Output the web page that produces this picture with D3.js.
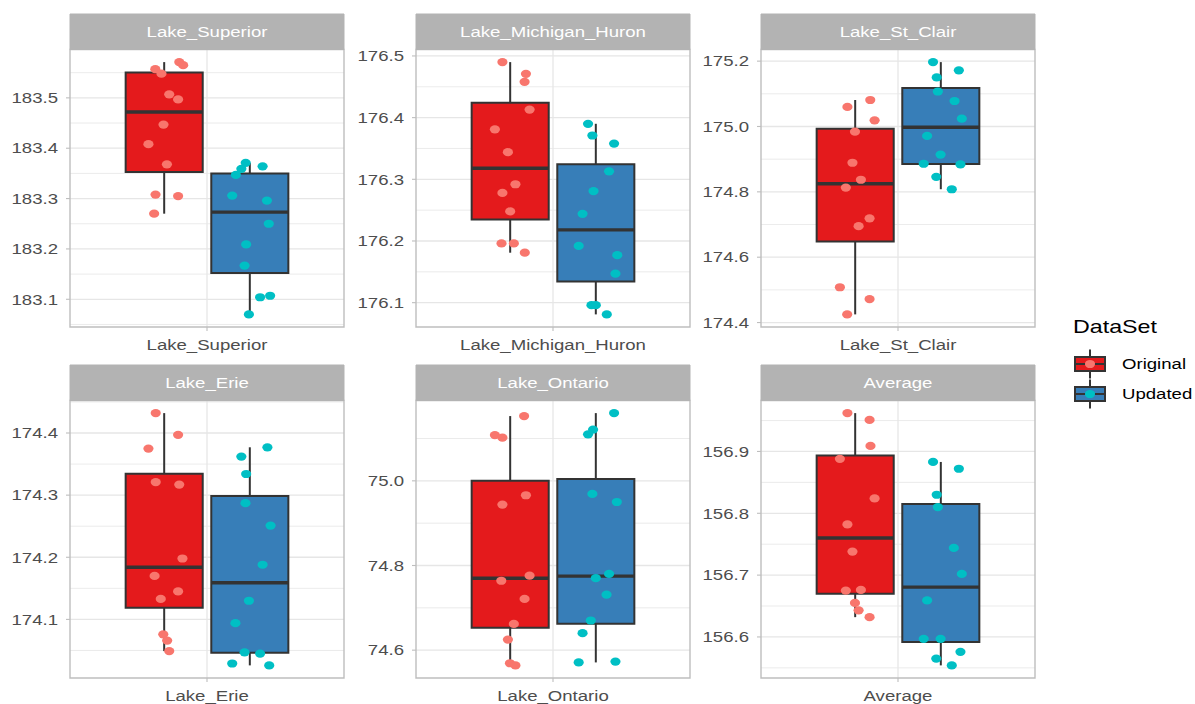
<!DOCTYPE html>
<html>
<head>
<meta charset="utf-8">
<script src="https://cdn.jsdelivr.net/npm/d3@7"></script>
<style>
  html, body { margin: 0; padding: 0; background: #ffffff; }
  svg { display: block; font-family: "Liberation Sans", Arial, Helvetica, sans-serif; }
</style>
</head>
<body>
<svg id="chart"></svg>
<script>
// ---- data -------------------------------------------------------------
const lakes = ["Lake_Superior", "Lake_Michigan_Huron", "Lake_St_Clair", "Lake_Erie", "Lake_Ontario", "Average"];
const dataSets = ["Original", "Updated"];

const superiorOriginal = [183.557, 183.571, 183.565, 183.548, 183.507, 183.497, 183.447, 183.408, 183.368, 183.308, 183.305, 183.270];
const superiorUpdated  = [183.371, 183.359, 183.347, 183.364, 183.306, 183.296, 183.250, 183.209, 183.167, 183.104, 183.107, 183.070];
const michiganOriginal = [176.490, 176.471, 176.458, 176.413, 176.381, 176.344, 176.292, 176.278, 176.248, 176.196, 176.196, 176.181];
const michiganUpdated  = [176.390, 176.371, 176.358, 176.313, 176.281, 176.244, 176.192, 176.177, 176.147, 176.096, 176.096, 176.081];
const stClairOriginal  = [175.060, 175.081, 175.019, 174.984, 174.889, 174.837, 174.813, 174.719, 174.695, 174.508, 174.472, 174.425];
const stClairUpdated   = [175.197, 175.172, 175.150, 175.107, 175.078, 175.024, 174.971, 174.914, 174.886, 174.884, 174.846, 174.808];
const erieOriginal     = [174.432, 174.397, 174.375, 174.321, 174.317, 174.198, 174.170, 174.145, 174.133, 174.076, 174.066, 174.049];
const erieUpdated      = [174.377, 174.362, 174.334, 174.287, 174.251, 174.188, 174.130, 174.094, 174.047, 174.045, 174.029, 174.026];
const ontarioOriginal  = [75.153, 75.108, 75.102, 74.966, 74.944, 74.776, 74.764, 74.721, 74.662, 74.625, 74.569, 74.564];
const ontarioUpdated   = [75.160, 75.121, 75.110, 74.969, 74.950, 74.780, 74.770, 74.731, 74.670, 74.640, 74.571, 74.573];
const averageOriginal  = [156.962, 156.951, 156.909, 156.888, 156.824, 156.782, 156.738, 156.675, 156.676, 156.655, 156.643, 156.632];
const averageUpdated   = [156.883, 156.872, 156.830, 156.810, 156.744, 156.702, 156.659, 156.597, 156.597, 156.576, 156.565, 156.554];

// horizontal jitter of each point, in category units, relative to its dodged box
const superiorOriginalJitter = [-0.039, 0.066, 0.083, -0.012, 0.022, 0.061, -0.003, -0.069, 0.012, -0.038, 0.061, -0.044];
const superiorUpdatedJitter  = [-0.018, -0.037, -0.061, 0.056, -0.077, 0.075, 0.083, -0.016, -0.023, 0.045, 0.089, -0.004];
const michiganOriginalJitter = [-0.034, 0.069, 0.063, 0.085, -0.067, -0.010, 0.023, -0.034, 0.000, -0.038, 0.016, 0.064];
const michiganUpdatedJitter  = [-0.034, -0.015, 0.080, 0.058, -0.010, -0.058, -0.075, 0.094, 0.086, -0.019, 0.000, 0.048];
const stClairOriginalJitter  = [-0.034, 0.066, 0.085, -0.001, -0.012, 0.025, -0.041, 0.063, 0.015, -0.067, 0.063, -0.035];
const stClairUpdatedJitter   = [-0.034, 0.079, -0.018, -0.013, 0.060, 0.092, -0.060, -0.001, -0.075, 0.086, -0.020, 0.048];
const erieOriginalJitter     = [-0.037, 0.061, -0.069, -0.037, 0.066, 0.080, -0.042, 0.061, -0.015, -0.004, 0.013, 0.022];
const erieUpdatedJitter      = [0.077, -0.037, -0.016, -0.019, 0.091, 0.056, -0.004, -0.063, -0.023, 0.045, -0.077, 0.085];
const ontarioOriginalJitter  = [0.061, -0.067, -0.034, 0.069, -0.034, 0.085, -0.039, 0.063, 0.016, -0.010, -0.001, 0.023];
const ontarioUpdatedJitter   = [0.080, -0.012, -0.034, -0.015, 0.092, 0.058, 0.000, 0.047, -0.022, -0.058, -0.075, 0.086];
const averageOriginalJitter  = [-0.034, 0.063, 0.067, -0.067, 0.085, -0.034, -0.012, -0.041, 0.025, -0.001, 0.015, 0.063];
const averageUpdatedJitter   = [-0.034, 0.079, -0.018, -0.013, 0.057, 0.092, -0.060, -0.075, -0.001, 0.086, -0.020, 0.048];

// y-axis tick labels of each facet
const superiorTicks = [183.1, 183.2, 183.3, 183.4, 183.5];
const michiganTicks = [176.1, 176.2, 176.3, 176.4, 176.5];
const stClairTicks  = [174.4, 174.6, 174.8, 175.0, 175.2];
const erieTicks     = [174.1, 174.2, 174.3, 174.4];
const ontarioTicks  = [74.6, 74.8, 75.0];
const averageTicks  = [156.6, 156.7, 156.8, 156.9];

const facetValues = [
  [superiorOriginal, superiorUpdated],
  [michiganOriginal, michiganUpdated],
  [stClairOriginal, stClairUpdated],
  [erieOriginal, erieUpdated],
  [ontarioOriginal, ontarioUpdated],
  [averageOriginal, averageUpdated]
];
const facetJitter = [
  [superiorOriginalJitter, superiorUpdatedJitter],
  [michiganOriginalJitter, michiganUpdatedJitter],
  [stClairOriginalJitter, stClairUpdatedJitter],
  [erieOriginalJitter, erieUpdatedJitter],
  [ontarioOriginalJitter, ontarioUpdatedJitter],
  [averageOriginalJitter, averageUpdatedJitter]
];
const facetTicks = [superiorTicks, michiganTicks, stClairTicks, erieTicks, ontarioTicks, averageTicks];

// ---- styling ------------------------------------------------------------
const boxFill   = {Original: "#E41A1C", Updated: "#377EB8"};
const pointFill = {Original: "#F8766D", Updated: "#00BFC4"};
const lineCol   = "#333333";
const gridCol   = "#E6E6E6";
const borderCol = "#BEBEBE";
const stripCol  = "#B3B3B3";
const axisText  = "#4D4D4D";

// ---- canvas -------------------------------------------------------------
const W = 1195, H = 704;
const sx = 1.24;                 // horizontal stretch of the drawing
const VW = W / sx;               // drawing width in user units
const X = px => px / sx;         // screen x -> user units

const svg = d3.select("#chart")
  .attr("width", W).attr("height", H)
  .attr("viewBox", `0 0 ${VW} ${H}`)
  .attr("preserveAspectRatio", "none");

const colLeft = [70, 416, 761].map(X);
const panelW = X(274);
const stripTop = [14, 365];
const stripH = 35.5;
const panelH = 277.5;

const fontAxis = 15;
const fmt = d3.format(".1f");

const nss = sel => sel.attr("vector-effect", "non-scaling-stroke");

function boxStats(vals) {
  const s = vals.slice().sort(d3.ascending);
  const q1 = d3.quantile(s, 0.25), med = d3.quantile(s, 0.5), q3 = d3.quantile(s, 0.75);
  const iqr = q3 - q1;
  const lo = d3.min(s.filter(v => v >= q1 - 1.5 * iqr));
  const hi = d3.max(s.filter(v => v <= q3 + 1.5 * iqr));
  return {q1, med, q3, lo, hi};
}

lakes.forEach((lake, i) => {
  const col = i % 3, row = Math.floor(i / 3);
  const x0 = colLeft[col];
  const sTop = stripTop[row];
  const pTop = sTop + stripH;
  const pBot = pTop + panelH;

  const all = facetValues[i].flat();
  const [mn, mx] = d3.extent(all);
  const pad = (mx - mn) * 0.05;
  const y = d3.scaleLinear().domain([mn - pad, mx + pad]).range([pBot, pTop]);
  const x = d3.scaleLinear().domain([0.4, 1.6]).range([x0, x0 + panelW]);

  const g = svg.append("g").attr("class", "facet");

  // panel background
  g.append("rect").attr("x", x0).attr("y", pTop).attr("width", panelW).attr("height", panelH)
    .attr("fill", "#ffffff");

  // minor grid lines halfway between the major ones
  const ticks = facetTicks[i];
  const step = ticks[1] - ticks[0];
  const minors = [];
  for (let k = -1; k < ticks.length; k++) {
    const v = ticks[0] + step * (k + 0.5);
    if (v > y.domain()[0] && v < y.domain()[1]) minors.push(v);
  }
  g.selectAll("line.minor").data(minors).join("line")
    .attr("class", "minor")
    .attr("x1", x0).attr("x2", x0 + panelW)
    .attr("y1", d => y(d)).attr("y2", d => y(d))
    .attr("stroke", gridCol).attr("stroke-width", 0.8).call(nss);

  g.selectAll("line.major").data(ticks).join("line")
    .attr("class", "major")
    .attr("x1", x0).attr("x2", x0 + panelW)
    .attr("y1", d => y(d)).attr("y2", d => y(d))
    .attr("stroke", gridCol).attr("stroke-width", 1.3).call(nss);

  g.append("line")
    .attr("x1", x(1)).attr("x2", x(1)).attr("y1", pTop).attr("y2", pBot)
    .attr("stroke", gridCol).attr("stroke-width", 1.3).call(nss);

  // boxplots
  const dodge = [-0.1875, 0.1875];
  const boxHalf = 0.16875;
  dataSets.forEach((ds, j) => {
    const st = boxStats(facetValues[i][j]);
    const cx = 1 + dodge[j];
    g.append("line")
      .attr("x1", x(cx)).attr("x2", x(cx)).attr("y1", y(st.hi)).attr("y2", y(st.q3))
      .attr("stroke", lineCol).attr("stroke-width", 2).call(nss);
    g.append("line")
      .attr("x1", x(cx)).attr("x2", x(cx)).attr("y1", y(st.q1)).attr("y2", y(st.lo))
      .attr("stroke", lineCol).attr("stroke-width", 2).call(nss);
    g.append("rect")
      .attr("x", x(cx - boxHalf)).attr("width", x(cx + boxHalf) - x(cx - boxHalf))
      .attr("y", y(st.q3)).attr("height", y(st.q1) - y(st.q3))
      .attr("fill", boxFill[ds]).attr("stroke", lineCol).attr("stroke-width", 2).call(nss);
    g.append("line")
      .attr("x1", x(cx - boxHalf)).attr("x2", x(cx + boxHalf))
      .attr("y1", y(st.med)).attr("y2", y(st.med))
      .attr("stroke", lineCol).attr("stroke-width", 3.4).call(nss);
  });

  // jittered points
  dataSets.forEach((ds, j) => {
    const vals = facetValues[i][j];
    const jit = facetJitter[i][j];
    g.selectAll(null).data(vals.map((v, k) => ({v, dx: jit[k]}))).join("circle")
      .attr("cx", d => x(1 + dodge[j] + d.dx))
      .attr("cy", d => y(d.v))
      .attr("r", 4.1)
      .attr("fill", pointFill[ds]);
  });

  // panel border
  g.append("rect").attr("x", x0).attr("y", pTop).attr("width", panelW).attr("height", panelH)
    .attr("fill", "none").attr("stroke", borderCol).attr("stroke-width", 1.4).call(nss);

  // strip
  g.append("rect").attr("x", x0).attr("y", sTop).attr("width", panelW).attr("height", stripH)
    .attr("fill", stripCol).attr("stroke", stripCol).attr("stroke-width", 1).call(nss);
  g.append("text").attr("x", x0 + panelW / 2).attr("y", sTop + stripH / 2)
    .attr("dy", "0.35em").attr("text-anchor", "middle")
    .attr("fill", "#ffffff").attr("font-size", fontAxis).text(lake);

  // y axis
  g.selectAll("line.ytick").data(ticks).join("line")
    .attr("class", "ytick")
    .attr("x1", x0 - X(4)).attr("x2", x0)
    .attr("y1", d => y(d)).attr("y2", d => y(d))
    .attr("stroke", borderCol).attr("stroke-width", 1.1).call(nss);
  g.selectAll("text.ylab").data(ticks).join("text")
    .attr("class", "ylab")
    .attr("x", x0 - X(12)).attr("y", d => y(d)).attr("dy", "0.35em")
    .attr("text-anchor", "end").attr("fill", axisText).attr("font-size", fontAxis)
    .text(d => fmt(d));

  // x axis
  g.append("line").attr("x1", x(1)).attr("x2", x(1)).attr("y1", pBot).attr("y2", pBot + 4)
    .attr("stroke", borderCol).attr("stroke-width", 1.1).call(nss);
  g.append("text").attr("x", x(1)).attr("y", pBot + 23)
    .attr("text-anchor", "middle").attr("fill", axisText).attr("font-size", fontAxis)
    .text(lake);
});

// ---- legend -------------------------------------------------------------
const leg = svg.append("g").attr("class", "legend");
leg.append("text").attr("x", X(1073)).attr("y", 333)
  .attr("fill", "#000000").attr("font-size", 18.75).text("DataSet");

const keyCx = X(1090), keyHalfW = X(15);
const keyCy = [364, 394];
dataSets.forEach((ds, j) => {
  const cy = keyCy[j];
  leg.append("line").attr("x1", keyCx).attr("x2", keyCx).attr("y1", cy - 14.5).attr("y2", cy + 14.5)
    .attr("stroke", lineCol).attr("stroke-width", 2).call(nss);
  leg.append("rect").attr("x", keyCx - keyHalfW).attr("width", 2 * keyHalfW)
    .attr("y", cy - 7).attr("height", 14)
    .attr("fill", boxFill[ds]).attr("stroke", lineCol).attr("stroke-width", 2).call(nss);
  leg.append("line").attr("x1", keyCx - keyHalfW).attr("x2", keyCx + keyHalfW)
    .attr("y1", cy).attr("y2", cy)
    .attr("stroke", lineCol).attr("stroke-width", 2).call(nss);
  leg.append("circle").attr("cx", keyCx).attr("cy", cy).attr("r", 4.1).attr("fill", pointFill[ds]);
  leg.append("text").attr("x", X(1122)).attr("y", cy).attr("dy", "0.35em")
    .attr("fill", "#000000").attr("font-size", fontAxis).text(ds);
});
</script>
</body>
</html>
